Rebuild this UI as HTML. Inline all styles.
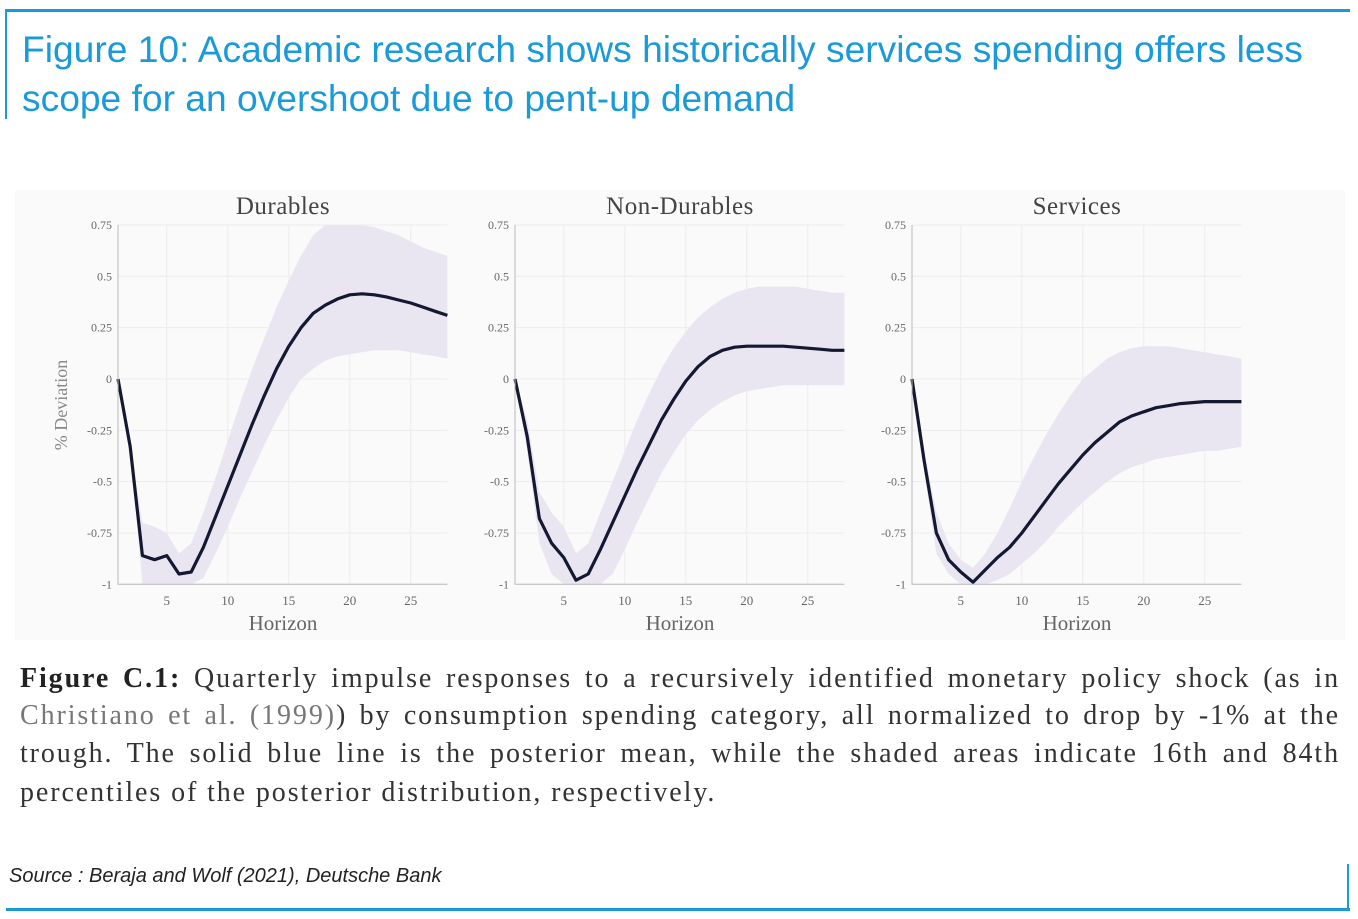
<!DOCTYPE html>
<html><head><meta charset="utf-8"><style>
body{margin:0;width:1358px;height:919px;background:#fff;position:relative;overflow:hidden;font-family:"Liberation Sans",sans-serif}
.abs{position:absolute}
.title{left:22px;top:25px;font-size:37.2px;line-height:49px;color:#1a9ad9}
.cap{left:20px;width:1320px;font-family:"Liberation Serif",serif;font-size:28px;letter-spacing:1.9px;color:#333;text-align:justify;text-align-last:justify;white-space:nowrap;line-height:32px}
</style></head><body>
<div class="abs" style="left:6px;top:9px;width:1344px;height:3px;background:#1a9ad9"></div>
<div class="abs" style="left:5px;top:9px;width:2px;height:110px;background:#1a9ad9"></div>
<div class="abs title">Figure 10: Academic research shows historically services spending offers less<br>scope for an overshoot due to pent-up demand</div>
<div class="abs" style="left:15px;top:190px;width:1330px;height:450px;background:#fafafa"></div>
<svg class="abs" style="left:0;top:0" width="1358" height="919" id="chart"></svg>
<div class="abs cap" style="top:663px"><b style="color:#222">Figure C.1:</b> Quarterly impulse responses to a recursively identified monetary policy shock (as in</div>
<div class="abs cap" style="top:700px"><span style="color:#777">Christiano et al. (1999)</span>) by consumption spending category, all normalized to drop by -1% at the</div>
<div class="abs cap" style="top:738px">trough. The solid blue line is the posterior mean, while the shaded areas indicate 16th and 84th</div>
<div class="abs cap" style="top:777px;width:auto;text-align:left;text-align-last:left">percentiles of the posterior distribution, respectively.</div>
<div class="abs" style="left:9px;top:865px;font-size:20px;font-style:italic;color:#222">Source : Beraja and Wolf (2021), Deutsche Bank</div>
<div class="abs" style="left:6px;top:908px;width:1344px;height:3px;background:#1a9ad9"></div>
<div class="abs" style="left:1347px;top:864px;width:2px;height:47px;background:#1a9ad9"></div>
<script>
const panelTitles=["Durables","Non-Durables","Services"];
const yTicks=[0.75,0.5,0.25,0,-0.25,-0.5,-0.75,-1];
const yTickLabels=["0.75","0.5","0.25","0","-0.25","-0.5","-0.75","-1"];
const xTicks=[5,10,15,20,25];
const horizonStart=1;
const meanDurables=[0,-0.33,-0.86,-0.88,-0.86,-0.95,-0.94,-0.82,-0.67,-0.52,-0.37,-0.22,-0.08,0.05,0.16,0.25,0.32,0.36,0.39,0.41,0.415,0.41,0.40,0.385,0.37,0.35,0.33,0.31];
const upperDurables=[0,-0.33,-0.70,-0.72,-0.75,-0.85,-0.80,-0.65,-0.48,-0.30,-0.12,0.05,0.20,0.35,0.48,0.60,0.70,0.75,0.75,0.75,0.75,0.74,0.72,0.70,0.67,0.64,0.62,0.60];
const lowerDurables=[0,-0.33,-1,-1,-1,-1,-1,-0.97,-0.85,-0.72,-0.58,-0.45,-0.32,-0.20,-0.09,0,0.05,0.09,0.11,0.12,0.13,0.14,0.14,0.14,0.13,0.12,0.11,0.10];
const meanNonDurables=[0,-0.28,-0.68,-0.80,-0.87,-0.98,-0.95,-0.83,-0.70,-0.57,-0.44,-0.32,-0.20,-0.10,-0.01,0.06,0.11,0.14,0.155,0.16,0.16,0.16,0.16,0.155,0.15,0.145,0.14,0.14];
const upperNonDurables=[0,-0.20,-0.55,-0.65,-0.72,-0.85,-0.80,-0.65,-0.50,-0.35,-0.20,-0.07,0.05,0.15,0.23,0.30,0.35,0.39,0.42,0.44,0.45,0.45,0.45,0.45,0.44,0.43,0.42,0.42];
const lowerNonDurables=[0,-0.35,-0.80,-0.95,-1,-1,-1,-1,-0.95,-0.83,-0.70,-0.58,-0.46,-0.36,-0.27,-0.20,-0.15,-0.11,-0.08,-0.06,-0.05,-0.04,-0.03,-0.03,-0.03,-0.03,-0.03,-0.03];
const meanServices=[0,-0.40,-0.75,-0.88,-0.94,-0.99,-0.93,-0.87,-0.82,-0.75,-0.67,-0.59,-0.51,-0.44,-0.37,-0.31,-0.26,-0.21,-0.18,-0.16,-0.14,-0.13,-0.12,-0.115,-0.11,-0.11,-0.11,-0.11];
const upperServices=[0,-0.35,-0.65,-0.80,-0.88,-0.92,-0.85,-0.75,-0.63,-0.50,-0.38,-0.27,-0.17,-0.08,0,0.05,0.10,0.13,0.15,0.16,0.16,0.16,0.15,0.14,0.13,0.12,0.11,0.10];
const lowerServices=[0,-0.45,-0.85,-0.95,-1,-1,-1,-0.98,-0.95,-0.90,-0.85,-0.79,-0.72,-0.66,-0.60,-0.55,-0.50,-0.46,-0.43,-0.41,-0.39,-0.38,-0.37,-0.36,-0.35,-0.35,-0.34,-0.33];
const means=[meanDurables,meanNonDurables,meanServices];
const uppers=[upperDurables,upperNonDurables,upperServices];
const lowers=[lowerDurables,lowerNonDurables,lowerServices];
const NS="http://www.w3.org/2000/svg";
const svg=document.getElementById('chart');
function mk(t,a,p){const e=document.createElementNS(NS,t);for(const k in a)e.setAttribute(k,a[k]);(p||svg).appendChild(e);return e;}
const yScale=v=>379-v*205.3;
panelTitles.forEach((title,pi)=>{
  const off=pi*397;
  const xScale=h=>118+off+(h-1)*12.2;
  const g=mk('g',{});
  
  
  const x0=xScale(1),x1=xScale(28);
  xTicks.forEach(t=>{const l=mk('line',{x1:xScale(t),x2:xScale(t),y1:yScale(0.75),y2:yScale(-1),stroke:'#ececec','stroke-width':1},g);});
  yTicks.forEach(t=>{const l=mk('line',{x1:x0,x2:x1,y1:yScale(t),y2:yScale(t),stroke:'#ececec','stroke-width':1},g);});
  const up=uppers[pi],lo=lowers[pi],mn=means[pi];
  let d='';
  up.forEach((v,i)=>{d+=(i?'L':'M')+xScale(i+horizonStart).toFixed(1)+','+yScale(Math.min(v,0.75)).toFixed(1);});
  for(let i=lo.length-1;i>=0;i--)d+='L'+xScale(i+horizonStart).toFixed(1)+','+yScale(lo[i]).toFixed(1);
  const band=mk('path',{d:d+'Z',fill:'#e9e6f1'},g);
  
  
  let dl='';
  mn.forEach((v,i)=>{dl+=(i?'L':'M')+xScale(i+horizonStart).toFixed(1)+','+yScale(v).toFixed(1);});
  const line=mk('path',{d:dl,fill:'none',stroke:'#141833','stroke-width':3.2,'stroke-linejoin':'round'},g);
  
  
  const ax=mk('path',{d:`M${x0},${yScale(0.75)}V${yScale(-1)}H${x1}`,fill:'none',stroke:'#bbb','stroke-width':1},g);
  
  
  yTicks.forEach((t,i)=>{const tx=mk('text',{x:x0-6,y:yScale(t)+4,'text-anchor':'end','font-family':'Liberation Serif, serif','font-size':12,fill:'#666'},g);tx.textContent=yTickLabels[i];});
  xTicks.forEach(t=>{const tx=mk('text',{x:xScale(t),y:605,'text-anchor':'middle','font-family':'Liberation Serif, serif','font-size':13,fill:'#666'},g);tx.textContent=t;});
  const tt=mk('text',{x:283+off,y:214,'text-anchor':'middle','font-family':'Liberation Serif, serif','font-size':25,fill:'#444','letter-spacing':0.5},g);tt.textContent=title;
  
  
  const xt=mk('text',{x:283+off,y:630,'text-anchor':'middle','font-family':'Liberation Serif, serif','font-size':21,fill:'#666'},g);xt.textContent='Horizon';
  
  
});
const yt=mk('text',{x:0,y:0,transform:'translate(67,405) rotate(-90)','text-anchor':'middle','font-family':'Liberation Serif, serif','font-size':18,fill:'#888'});
yt.textContent='% Deviation';


</script>
</body></html>
